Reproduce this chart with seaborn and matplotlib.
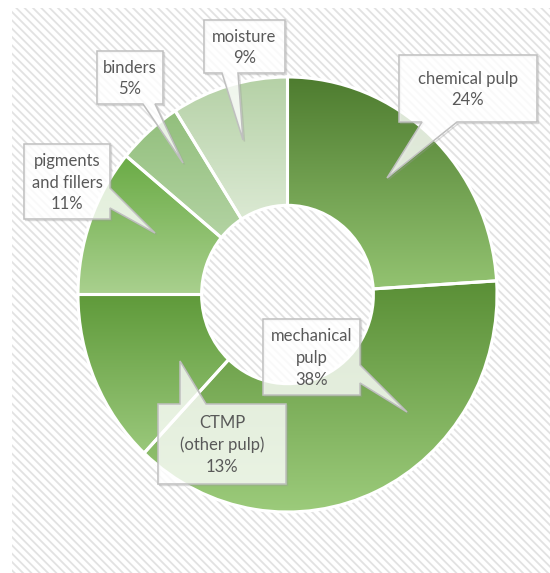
import numpy as np
import matplotlib
matplotlib.use("Agg")
import matplotlib.pyplot as plt
import seaborn as sns
from matplotlib.patches import Polygon, Rectangle

# ---- data ----
categories = ["chemical pulp", "mechanical\npulp", "CTMP\n(other pulp)",
              "pigments\nand fillers", "binders", "moisture"]
shares = [24, 38, 13, 11, 5, 9]
top_colors = ["#4e7c2f", "#5a8f36", "#5f9a3a", "#6aab45", "#92bf7c", "#b5d1a6"]
bottom_colors = ["#93c371", "#9ccb7b", "#9ac87b", "#a9d08e", "#b3d3a3", "#dbe9d3"]

# ---- style ----
sns.set_style("white")
plt.rcParams['font.family'] = ['Lato', 'DejaVu Sans']
plt.rcParams['hatch.linewidth'] = 1.3

W, H = 550, 573
fig = plt.figure(figsize=(W / 100, H / 100), dpi=100)

# background with diagonal stripes
bg = fig.add_axes([0, 0, 1, 1])
bg.set_xlim(0, W)
bg.set_ylim(H, 0)
bg.axis('off')
bg.add_patch(Rectangle((12, 8), W - 12, H - 8, facecolor='white',
                       edgecolor='#e2e2e2', hatch='\\\\\\\\', linewidth=0))

# donut
left, right, top, bottom = 78, 497, 77, 512
pax = fig.add_axes([left / W, 1 - bottom / H, (right - left) / W, (bottom - top) / H])
wedges, _ = pax.pie(shares, startangle=90, counterclock=False, radius=1,
                    wedgeprops=dict(width=0.59, facecolor='none',
                                    edgecolor='white', linewidth=2.2))
grad = np.linspace(0, 1, 256).reshape(-1, 1)
for w, c0, c1 in zip(wedges, top_colors, bottom_colors):
    bb = w.get_path().get_extents()
    cmap = sns.blend_palette([c1, c0], as_cmap=True)
    im = pax.imshow(grad, cmap=cmap, extent=(bb.x0, bb.x1, bb.y0, bb.y1),
                    origin='lower', aspect='auto', interpolation='bilinear', zorder=1)
    im.set_clip_path(w)
    w.set_zorder(2)
    w.set_clip_on(False)
pax.set_aspect('auto')
pax.set_xlim(-1, 1)
pax.set_ylim(-1, 1)
pax.axis('off')

# callouts overlay
ov = fig.add_axes([0, 0, 1, 1])
ov.set_xlim(0, W)
ov.set_ylim(H, 0)
ov.axis('off')
ov.patch.set_alpha(0)

callouts = [
    ((399, 55, 537, 122), 'bottom', (422, 457), (387, 178)),
    ((263, 319, 360, 395), 'right', (365, 383), (407, 412)),
    ((158, 404, 286, 484), 'top', (180, 206), (180, 361)),
    ((24, 144, 110, 219), 'right', (188, 208), (155, 233)),
    ((97, 51, 163, 104), 'bottom', (143, 155), (183, 163)),
    ((204, 20, 285, 73), 'bottom', (222, 238), (243, 140)),
]


def callout_vertices(box, side, base, tip):
    x0, y0, x1, y1 = box
    b0, b1 = base
    if side == 'bottom':
        return [(x0, y0), (x1, y0), (x1, y1), (b1, y1), tip, (b0, y1), (x0, y1)]
    if side == 'right':
        return [(x0, y0), (x1, y0), (x1, b0), tip, (x1, b1), (x1, y1), (x0, y1)]
    if side == 'top':
        return [(x0, y0), (b0, y0), tip, (b1, y0), (x1, y0), (x1, y1), (x0, y1)]
    return [(x0, y0), (x1, y0), (x1, y1), (x0, y1)]


for (box, side, base, tip), name, val in zip(callouts, categories, shares):
    verts = callout_vertices(box, side, base, tip)
    shadow = Polygon([(x + 1.5, y + 1.5) for x, y in verts], closed=True,
                     facecolor='none', edgecolor='#9a9a9a', linewidth=1.0,
                     alpha=0.35, joinstyle='miter')
    ov.add_patch(shadow)
    ov.add_patch(Polygon(verts, closed=True, facecolor=(1, 1, 1, 0.8),
                         edgecolor='#bfbfbf', linewidth=1.1, joinstyle='miter'))
    x0, y0, x1, y1 = box
    ov.text((x0 + x1) / 2, (y0 + y1) / 2 + 1, f"{name}\n{val}%", ha='center',
            va='center', multialignment='center', fontsize=12,
            linespacing=1.45, color='#595959')

fig.savefig("out.png", dpi=100)
